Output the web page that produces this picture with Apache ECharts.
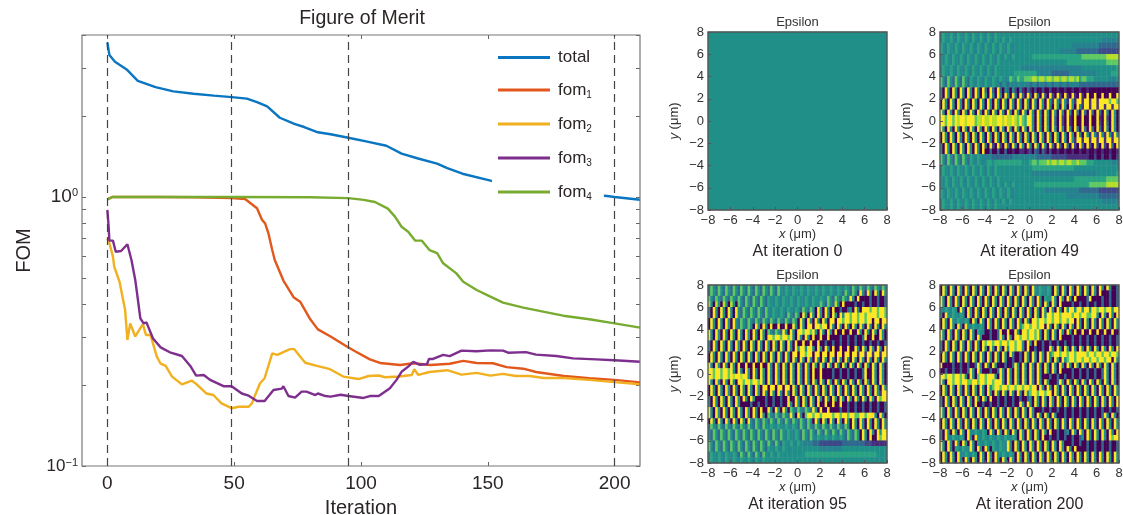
<!DOCTYPE html>
<html><head><meta charset="utf-8">
<style>html,body{margin:0;padding:0;background:#fff}#c{width:1123px;height:515px}</style>
<script src="https://cdn.jsdelivr.net/npm/echarts@6/dist/echarts.min.js"></script></head>
<body><div id="c"></div>
<script>
const seriesNames = ['total','fom1','fom2','fom3','fom4'];
const snapshotIterations = [0,49,95,200];
const xTickValues = [0,50,100,150,200];
const yTickValues = [0.1,0.2,0.3,0.4,0.5,0.6,0.7,0.8,0.9,1,2,3,4];
const yLabelValues = [0.1,1];
const panelIterations = [0,49,95,200];

const totalIter = [0,0.8,3,7.6,12,19,26,34,42,49,55,59,63,68,73.7,77.6,83,88,95,102,110,116,122.5,130,134,140,151.5,160,170,180,190,197,200,210];
const totalVals = [3.75,3.37,3.18,2.98,2.70,2.56,2.47,2.42,2.38,2.35,2.32,2.25,2.17,1.97,1.87,1.82,1.74,1.71,1.66,1.61,1.55,1.45,1.39,1.33,1.28,1.22,1.147,1.10,1.07,1.04,1.02,1.0086,1.0,0.977];
const fom1Iter = [0,1,2,20,35,49,54.3,59,61,62.2,63.5,65,66,69.4,73.4,76,80,83,88,94.4,98,103.5,107.5,115.4,120.6,127.4,135,140.3,145.6,152,157.4,164,169,180,190,200,210];
const fom1Vals = [0.98,0.99,1.0,1.0,0.998,0.99,0.983,0.908,0.821,0.798,0.733,0.635,0.583,0.489,0.424,0.408,0.351,0.322,0.303,0.278,0.266,0.249,0.2415,0.2375,0.241,0.2375,0.24,0.246,0.2415,0.241,0.233,0.23,0.2236,0.216,0.212,0.209,0.2046];
const fom2Iter = [0,0.8,2.2,2.7,4.8,7,7.9,9,11,14,15.2,17,19.5,21,23,25.5,29.4,33.3,35,39,41.8,45,49,51.7,55.7,57,58,60.2,62,65,67,72,73.6,78,82.6,87.8,93,99,103,107,109.5,115,120,121,122.6,127,134,139.6,145.6,151,156,161,166.5,172,180,190,200,210];
const fom2Vals = [0.70,0.673,0.6,0.551,0.484,0.38,0.294,0.339,0.303,0.337,0.307,0.307,0.255,0.24,0.2355,0.215,0.201,0.2075,0.202,0.186,0.1836,0.171,0.164,0.166,0.166,0.171,0.181,0.203,0.212,0.262,0.259,0.272,0.272,0.242,0.2355,0.229,0.215,0.2105,0.216,0.217,0.2137,0.215,0.218,0.229,0.218,0.2236,0.227,0.2185,0.222,0.2167,0.22,0.216,0.216,0.2124,0.2124,0.209,0.205,0.2014];
const fom3Iter = [0,0.5,0.8,2.2,3.3,5.4,7.9,8.6,9.5,11,11.7,13,14.3,15.4,18,21,25,29.4,32.7,35,38,40.5,45.8,49,53,55.7,59,62,65.5,68.8,69.4,71.4,74,76.6,78.5,82,83,86,88,92,95,101,103.5,107,111.4,114,116,118.6,120.6,123,126,126.8,128.4,132.4,135,139.6,145.6,151,156,158,165,169,177,183.6,192.7,200,210];
const fom3Vals = [0.895,0.776,0.688,0.688,0.626,0.63,0.667,0.67,0.583,0.491,0.439,0.354,0.339,0.342,0.298,0.276,0.2637,0.2564,0.2355,0.2167,0.218,0.209,0.198,0.198,0.186,0.1825,0.1745,0.1745,0.1917,0.194,0.198,0.182,0.1795,0.189,0.189,0.1836,0.186,0.182,0.181,0.184,0.182,0.179,0.182,0.182,0.1945,0.209,0.224,0.234,0.244,0.238,0.239,0.25,0.25,0.259,0.256,0.2685,0.267,0.269,0.2685,0.2637,0.265,0.2594,0.2564,0.2512,0.249,0.2472,0.244];
const fom4Iter = [0,2,20,49,80,95,101,105.5,110.6,113.4,116,118.6,121.4,124,127,130,132.4,137.6,140.3,145.6,151,156,164,171.8,179.7,190,200,210];
const fom4Vals = [0.98,1.0,1.0,1.0,0.998,0.99,0.975,0.958,0.905,0.845,0.775,0.743,0.688,0.688,0.635,0.619,0.567,0.52,0.484,0.451,0.426,0.405,0.388,0.375,0.362,0.351,0.339,0.327];

const epsilon0 = ["5"];
const epsilon49 = [
"465465465465 465465465465 555555555555 555555555555 555555555555 555555555555",
"465465465465 465465465465 465465555555 555555555555 555555555555 555554444444",
"654654654654 654654654654 654654555555 555555555555 555554444444 444433333333",
"654654654654 654654654654 654654555555 555555555555 444444433333 333322222222",
"546546546546 546546546546 546546555555 566666666666 666666666777 777777788888",
"546546546546 546546546546 555555555555 555555555555 555666666666 666666677777",
"465465465465 465465465465 555555555444 444444444444 444444444555 555555555556",
"465465465465 465465465465 555555666666 666444444333 333344444444 444555555666",
"753753753753 654654654654 654576576677 788788788788 788788786776 665555554445",
"753753753753 654654654654 354354454444 344344344344 344344443333 333333333333",
"509509509509 509509309309 305305204103 102002002001 001001001001 000000000000",
"509509509509 509509509509 509509409309 309309209209 209109109109 009009009009",
"095095095095 095095095095 095095095095 095095095195 195195199199 199199997997",
"095095095095 095095095095 095095095095 095095095095 095095095199 199199199199",
"950950950950 950950950950 950950950950 950950950950 940940930930 930930940950",
"997997989989 997889889889 989889879769 950950940930 920910900900 900910920950",
"997997989989 997889889889 989889879769 950950940930 920910900900 900920930950",
"950950950950 950950950950 950950950950 950950950950 940940930930 930930940950",
"095095095095 095095095095 095095095095 095095095095 095095095095 195195195195",
"095095095095 095095095095 095095095095 095095095095 095095199199 199199199199",
"509509509509 509509309209 209309409509 509509409309 309309209309 209209209309",
"509509509509 509509003003 003001001101 203203102001 001001001001 001001001001",
"753753753753 654654444333 333334444444 444333333222 222111111111 002002002002",
"753753753753 654654566566 666666666555 677677787887 887887787776 665555555444",
"465465465465 465465465465 555555555555 566666666666 666666555555 555555555555",
"465465465465 465465465465 555555555555 544444444444 444444444444 444555555556",
"546546546546 546546546546 555555555555 555555555555 555555666666 666666677777",
"546546546546 546546546546 546546555555 556666666666 666666666666 777777788888",
"654654654654 654654654654 654654555555 555555444444 444444443333 333322222222",
"654654654654 654654654654 654654555555 555555555555 555444444444 444433333333",
"465465465465 465465465465 465465555555 555555555555 555555555555 555554444444",
"465465465465 465465465465 555555555555 555555555555 555555555555 555555555555"];
const epsilon95 = [
"375375375375 375375375375 375375465465 465465465465 465465465375 375375375375",
"375375375375 375375375375 375375465465 465465465465 465465375375 195195095095",
"753753753753 753753753753 654654654654 654654654654 753753753950 900003003003",
"850850850850 753753753753 654654654654 654654654753 753850900003 003003003003",
"509509509509 537537537537 546546546546 537537509509 509003003509 509997997997",
"509509509509 537537537537 546546537537 509509509509 509509599799 799799997997",
"095095095095 375375375375 375375375375 095095095095 099099799799 799799099099",
"095095095095 375375095095 090090090095 095099099799 095095095095 095095095095",
"950950950950 950950950950 753753950950 997997950950 950900900900 950950950950",
"950950950950 950950950950 997997997950 950950900900 900003003003 003900900950",
"509509509509 509509509509 509509509509 009009009003 003003003003 003003003003",
"509509509509 509509509509 509509509509 599599509509 509009009009 509509509509",
"095095095095 095095095095 095095095099 099799099099 099099099099 199199199199",
"095095095095 095095095095 095095095095 095095095095 095095095095 095095095095",
"950950950950 900900900900 950950950950 950950950950 950950950950 950950950950",
"997997997950 950950950950 950950950950 950950900900 003003003003 003900950950",
"997997997989 989950950950 950950950950 950950900900 003003003003 003900950950",
"950950950950 997997997950 950950950950 950950950950 950950950950 950950950950",
"095095095095 095095095099 099099099095 095095095095 095095095095 095095095095",
"095095095095 095095095095 095095095095 095095095095 095095095095 095095095199",
"509509509509 509509500003 003003009009 509509509509 509509509509 509509509799",
"509509509509 500003003003 003003009509 509509509009 009009003003 003003003003",
"950950950950 950950950900 950950950753 753753950900 900003003003 003003003003",
"950950950950 950950950950 753753753950 950799799799 997997997997 799799950950",
"095095095095 095095375375 375375375375 375375095095 095095095095 095095095095",
"375375375375 375375375375 465465465465 375375375375 375375375095 095095095095",
"537537537537 537537537537 537537546546 537537537537 537537537537 509509509599",
"537537537537 537537537537 537537546546 537537546546 546546537537 509509009799",
"753753753753 753753753753 753753654654 654444333222 222222333333 333222111111",
"753753753753 753753753753 654654654555 555555555444 444444555555 555555555555",
"465465465465 375375375375 465465555555 555666666666 666666666666 666666665555",
"465465465465 465465465465 555555555555 555555555555 555555555555 555555555555"];
const epsilon200 = [
"095095095095 095095095095 095095095095 095465465095 095095095095 095095095003",
"095095095095 095095095095 095095095095 095465465095 095095095095 095090003003",
"950950950950 950950950950 950950950950 950950654950 950950900003 900003003003",
"950950950950 950950950950 950950950950 950950950950 900003003003 003003003003",
"546546509509 509509509509 509509509509 509509509509 509599599599 599799799599",
"509546546509 509509509509 509509509509 509509599799 799997997997 799509509509",
"095095465465 095095095095 095095095095 099799799799 799799095095 095095095095",
"095095095095 465465095095 095095095799 799799095095 095095095095 095095095095",
"950950950950 950654003003 900900950997 997950950950 950950900900 900900900900",
"950950950950 950950003003 950950997997 997950950950 900003003003 003003003003",
"509509509509 509509799799 799799799509 509003003003 003003003003 003003003003",
"509509509509 509509509509 509599799509 003003009509 509509509509 509509509509",
"095095095095 095095095095 095095003095 095095095799 799799799997 997997997997",
"095095095095 095095095095 095003003095 095095095095 095799799799 799799799095",
"900003003003 003950950950 003003950950 950950950950 950950950950 950950950950",
"003003003003 950950003003 950950950950 950950950950 900003003003 003003950950",
"997997997950 950799799950 950950950950 950950003003 003003003003 003003950950",
"950997997997 799799799799 950950950950 950950950003 950950950950 950950950950",
"095095095095 095095095799 799799799799 799095095095 095095095095 095095095095",
"095095095095 095095095095 095095095095 799799799095 095095095095 095095095095",
"509509509509 509509509003 003003003003 509509509509 509509509509 509509509509",
"509509509509 509003003003 003003009509 509509509509 509509509509 509509509509",
"950950950950 950950950950 950950950950 950003003003 003003003003 003003003003",
"950950950950 950950950950 950950950950 950950950950 003003003003 003003950950",
"095095095095 095095095095 095095095095 095095095095 095095095095 095095095095",
"095095095095 095095095095 095095095095 095095095095 095095095095 095095095095",
"509509509509 546546509509 509509509509 509509509003 003509509509 509509509509",
"509546546509 509546546546 546546509509 509509003003 003003003509 509509509799",
"950950950950 950654654654 654950950950 950950950950 950003003003 003003003003",
"950950654654 950950950654 654950950950 950950950950 950950900003 003003003003",
"095095095465 465095095095 465465095095 095095095095 095095095095 095095095095",
"095095095095 095095095095 095095095095 095095095095 095095095095 095095095095"];
const epsilonFields = [epsilon0, epsilon49, epsilon95, epsilon200];

const FONT = '"Liberation Sans", Arial, sans-serif';
const TEXT = '#2b2525';
const lineColors = ['#0a75c0','#e2571c','#f0b01f','#7e2f8e','#77ac30'];
const lineData = [[totalIter,totalVals],[fom1Iter,fom1Vals],[fom2Iter,fom2Vals],[fom3Iter,fom3Vals],[fom4Iter,fom4Vals]];
const viridis = ['#440154','#472d7b','#3e4989','#31688e','#26828e','#1f8f88','#2aa383','#5ec962','#b5de2b','#fde725'];
const panelBoxes = [
  {left:708, top:32, width:179, height:178},
  {left:940, top:32, width:179, height:178},
  {left:708, top:285, width:179, height:178},
  {left:940, top:285, width:179, height:178}
];

const grids = [{left:82, top:35, width:558, height:431, show:true, z:5, backgroundColor:'transparent', borderColor:'#777', borderWidth:1.2, outerBoundsMode:'none'}];
const xAxes = [
  {gridIndex:0, type:'value', min:-10, max:210, position:'bottom', splitLine:{show:false}, axisLine:{show:false, onZero:false},
   axisTick:{inside:true, length:4, customValues:xTickValues, lineStyle:{color:'#666'}},
   axisLabel:{customValues:xTickValues, fontFamily:FONT, fontSize:19, color:TEXT, margin:8},
   name:'Iteration', nameLocation:'middle', nameGap:32, nameTextStyle:{fontFamily:FONT, fontSize:20, color:TEXT}},
  {gridIndex:0, type:'value', min:-10, max:210, position:'top', splitLine:{show:false}, axisLine:{show:false, onZero:false},
   axisTick:{inside:true, length:4, customValues:xTickValues, lineStyle:{color:'#666'}}, axisLabel:{show:false}}
];
const yAxes = [
  {gridIndex:0, type:'log', logBase:10, min:0.1, max:4, position:'left', splitLine:{show:false}, minorTick:{show:false}, axisLine:{show:false, onZero:false},
   axisTick:{inside:true, length:4, customValues:yTickValues, lineStyle:{color:'#666'}},
   axisLabel:{customValues:yLabelValues, margin:4, fontFamily:FONT, color:TEXT,
     formatter:v => v >= 1 ? '{b|10}{s|0}' : '{c|10}{s|\u22121}',
     rich:{b:{fontFamily:FONT,fontSize:19,color:TEXT}, c:{fontFamily:FONT,fontSize:17,color:TEXT}, s:{fontFamily:FONT,fontSize:11,color:TEXT,verticalAlign:'top',padding:[0,0,6,0]}}},
   name:'FOM', nameLocation:'middle', nameGap:48, nameTextStyle:{fontFamily:FONT, fontSize:20, color:TEXT}},
  {gridIndex:0, type:'log', logBase:10, min:0.1, max:4, position:'right', splitLine:{show:false}, minorTick:{show:false}, axisLine:{show:false, onZero:false},
   axisTick:{inside:true, length:4, customValues:yTickValues, lineStyle:{color:'#666'}}, axisLabel:{show:false}}
];
const series = seriesNames.map((name,i) => ({
  name, type:'line', xAxisIndex:0, yAxisIndex:0, showSymbol:false, symbol:'none', smooth:false,
  lineStyle:{width:2.4, color:lineColors[i]}, itemStyle:{color:lineColors[i]},
  data: lineData[i][0].map((x,j) => [x, lineData[i][1][j]]),
  markLine: i===0 ? {silent:true, symbol:'none', animation:false, label:{show:false},
    lineStyle:{type:[8,5], width:1.2, color:'#444'}, data: snapshotIterations.map(v => ({xAxis:v}))} : undefined
}));
const titles = [{text:'Figure of Merit', left:362, top:9, padding:0, textAlign:'center', textStyle:{fontFamily:FONT, fontSize:19.5, fontWeight:'normal', color:TEXT}}];

epsilonFields.forEach((field,p) => {
  const box = panelBoxes[p];
  const g = grids.length;
  grids.push(Object.assign({show:true, z:5, backgroundColor:'transparent', borderColor:'#555', borderWidth:1.3, outerBoundsMode:'none'}, box));
  const rows = field.map(r => r.replace(/ /g,''));
  const nCols = rows[0].length;
  const cols = Array.from({length:nCols},(_, i)=>i);
  const rowIdx = rows.map((_, i)=>i);
  const xCat = xAxes.length, yCat = yAxes.length;
  xAxes.push({gridIndex:g, type:'category', data:cols, show:false});
  yAxes.push({gridIndex:g, type:'category', data:rowIdx, inverse:true, show:false});
  const tickFmt = v => v < 0 ? '\u2212' + (-v) : String(v);
  const nameStyle = {fontFamily:FONT, fontSize:13, color:'#333', rich:{i:{fontFamily:FONT, fontSize:13, fontStyle:'italic', color:'#333'}}};
  xAxes.push({gridIndex:g, type:'value', min:-8, max:8, interval:2, position:'bottom', z:6, splitLine:{show:false}, axisLine:{show:false, onZero:false},
    axisTick:{inside:true, length:3, lineStyle:{color:'#555'}},
    axisLabel:{formatter:tickFmt, fontFamily:FONT, fontSize:13, color:'#333', margin:4, showMinLabel:true, showMaxLabel:true, hideOverlap:false},
    name:'{i|x} (\u03bcm)', nameLocation:'middle', nameGap:18, nameTextStyle:nameStyle});
  yAxes.push({gridIndex:g, type:'value', min:-8, max:8, interval:2, position:'left', z:6, splitLine:{show:false}, axisLine:{show:false, onZero:false},
    axisTick:{inside:true, length:3, lineStyle:{color:'#555'}},
    axisLabel:{formatter:tickFmt, fontFamily:FONT, fontSize:13, color:'#333', margin:4, showMinLabel:true, showMaxLabel:true, hideOverlap:false},
    name:'{i|y} (\u03bcm)', nameLocation:'middle', nameGap:27, nameTextStyle:nameStyle});
  const cells = [];
  rows.forEach((r,ri) => { for (let ci=0; ci<r.length; ci++) cells.push([ci, ri, Number(r[ci])]); });
  series.push({type:'heatmap', xAxisIndex:xCat, yAxisIndex:yCat, data:cells, progressive:0, itemStyle:{borderWidth:0}, emphasis:{disabled:true}});
  const cx = box.left + box.width/2;
  titles.push({text:'Epsilon', left:cx, top:box.top-16, padding:0, textAlign:'center', textStyle:{fontFamily:FONT, fontSize:13, fontWeight:'normal', color:'#333'}});
  titles.push({text:'At iteration ' + panelIterations[p], left:cx, top:box.top+box.height+34, padding:0, textAlign:'center', textStyle:{fontFamily:FONT, fontSize:16, fontWeight:'normal', color:TEXT}});
});

const chart = echarts.init(document.getElementById('c'), null, {renderer:'canvas'});
chart.setOption({
  animation:false, backgroundColor:'#fff',
  title:titles, grid:grids, xAxis:xAxes, yAxis:yAxes, series,
  visualMap:{show:false, type:'continuous', min:0, max:9, seriesIndex:[5,6,7,8], inRange:{color:viridis}, calculable:false},
  legend:{
    orient:'vertical', left:492, top:39, padding:[10,12,10,6], backgroundColor:'#fff', z:4,
    data:seriesNames, icon:'rect', itemWidth:52, itemHeight:3, itemGap:15.5,
    formatter:n => n==='total' ? '{a|total}' : '{a|fom}{s|' + n.slice(3) + '}',
    textStyle:{fontFamily:FONT, fontSize:17, color:TEXT, padding:[0,0,0,3], rich:{a:{fontFamily:FONT,fontSize:17,color:TEXT,lineHeight:20}, s:{fontFamily:FONT,fontSize:10,color:TEXT,verticalAlign:'bottom',lineHeight:12}}}
  }
});
</script></body></html>
